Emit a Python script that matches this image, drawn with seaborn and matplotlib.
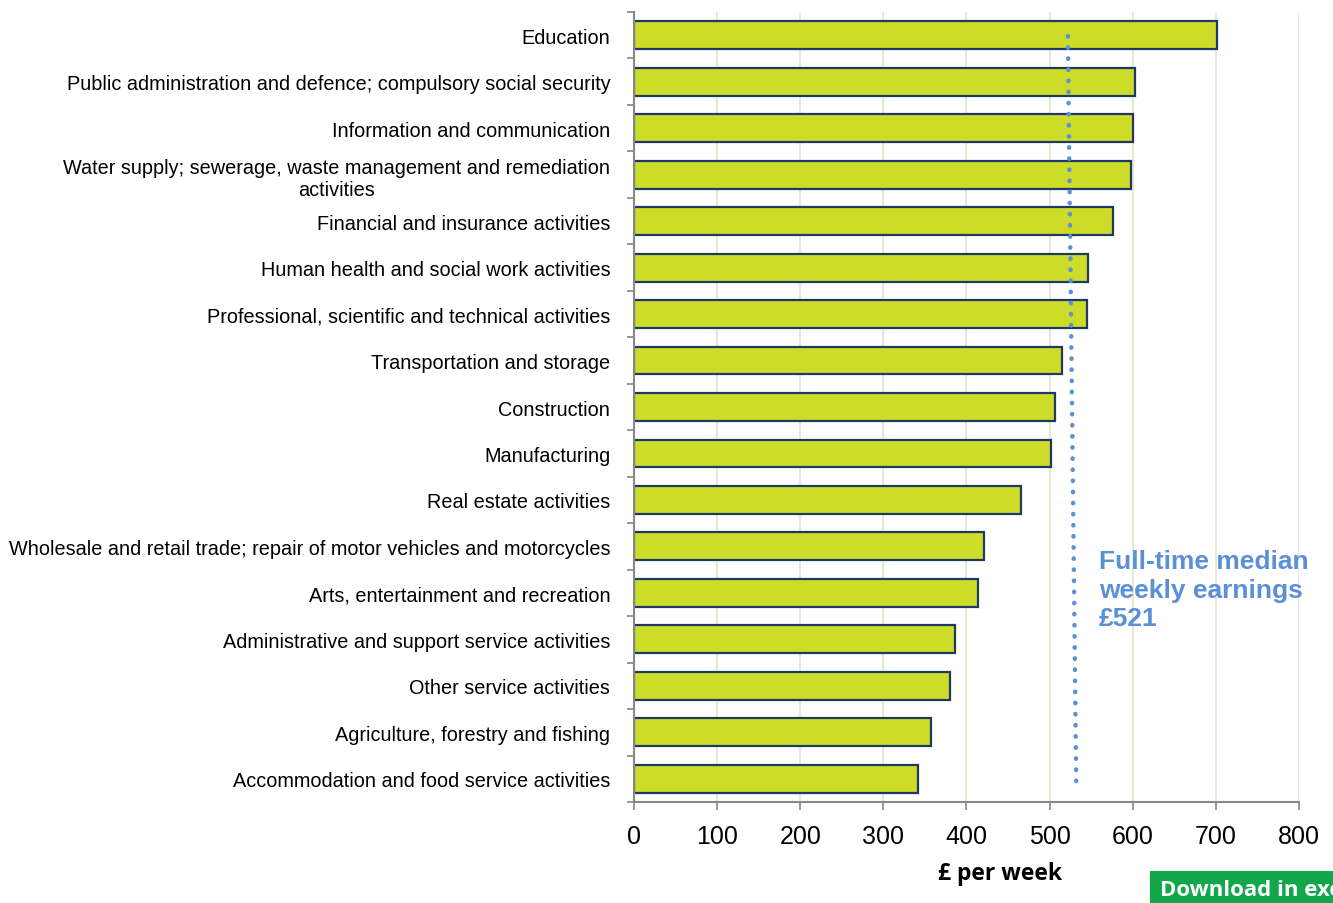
import pandas as pd
import seaborn as sns
import matplotlib.pyplot as plt
from matplotlib.patches import Rectangle

# industries, highest first
industries = [
    "Education",
    "Public administration and defence; compulsory social security",
    "Information and communication",
    "Water supply; sewerage, waste management and remediation\nactivities",
    "Financial and insurance activities",
    "Human health and social work activities",
    "Professional, scientific and technical activities",
    "Transportation and storage",
    "Construction",
    "Manufacturing",
    "Real estate activities",
    "Wholesale and retail trade; repair of motor vehicles and motorcycles",
    "Arts, entertainment and recreation",
    "Administrative and support service activities",
    "Other service activities",
    "Agriculture, forestry and fishing",
    "Accommodation and food service activities",
]
weekly_pay = [701, 603, 600, 598, 576, 546, 545, 515, 506, 502, 466, 421, 414, 386, 380, 357, 342]
median_pay = 521
x_ticks = [0, 100, 200, 300, 400, 500, 600, 700, 800]

df = pd.DataFrame({"industry": industries, "pay": weekly_pay})

sns.set_style("white")
plt.rcParams['font.family'] = ['Liberation Sans', 'DejaVu Sans']
plt.rcParams['text.color'] = 'black'
plt.rcParams['axes.labelcolor'] = 'black'
plt.rcParams['xtick.color'] = 'black'
plt.rcParams['ytick.color'] = 'black'

fig = plt.figure(figsize=(13.33, 9.04), dpi=100)
ax = fig.add_axes([0.4756, 0.1117, 0.4989, 0.8739])

sns.barplot(data=df, x="pay", y="industry", color="#cddc28", saturation=1,
            edgecolor="#1f3864", linewidth=1.6, width=0.6, ax=ax)

# median line (drawn slightly slanted as in the original)
ax.plot([median_pay + 1, median_pay + 11], [0.02, 16.1], linestyle=(0, (0.1, 2.4)),
        dash_capstyle="round", color="#5b8fd6", linewidth=3.2, zorder=5)
ax.text(559, 11.93, "Full-time median\nweekly earnings\n£521", color="#5b8fd6",
        fontsize=19, fontweight="bold", va="center", ha="left", linespacing=1.25)

ax.set_xlim(0, 800)
ax.set_ylim(16.5, -0.5)
ax.set_xticks(x_ticks)
ax.set_xticklabels([str(t) for t in x_ticks], fontsize=18)
ax.xaxis.grid(True, color="#e4ebd3", linewidth=1.5)
ax.set_axisbelow(True)

# y tick marks between categories
ax.set_yticks(range(len(industries)))
ax.set_yticklabels(industries, fontsize=14.3)
ax.set_yticks([i - 0.5 for i in range(len(industries) + 1)], minor=True)
ax.tick_params(axis="y", which="major", left=False, length=0, pad=17)
ax.tick_params(axis="y", which="minor", left=True, length=5, color="#888888", width=1.2,
               direction="out")
ax.tick_params(axis="x", bottom=True, length=6, color="#888888", labelcolor="black",
               width=1.2, direction="out", pad=10)

for s in ["top", "right"]:
    ax.spines[s].set_visible(False)
for s in ["left", "bottom"]:
    ax.spines[s].set_color("#888888")
    ax.spines[s].set_linewidth(1.5)

ax.set_xlabel("£ per week", fontsize=16.5, fontweight="bold", family=["Open Sans", "DejaVu Sans"])
ax.xaxis.set_label_coords(0.55, -0.075)
ax.set_ylabel("")
for lbl in ax.get_yticklabels():
    lbl.set_multialignment("center")

# download button at the bottom-right, cut by the figure edge (as in the source)
fig.patches.append(Rectangle((1150 / 1333, 0), 200 / 1333, 32 / 904, transform=fig.transFigure,
                             facecolor="#10a84a", edgecolor="none"))
fig.text(1160 / 1333, 13 / 904, "Download in excel", color="white", fontsize=16,
         fontweight="bold", family=["Open Sans", "DejaVu Sans"], va="center", ha="left")

fig.savefig("out.png", dpi=100)
